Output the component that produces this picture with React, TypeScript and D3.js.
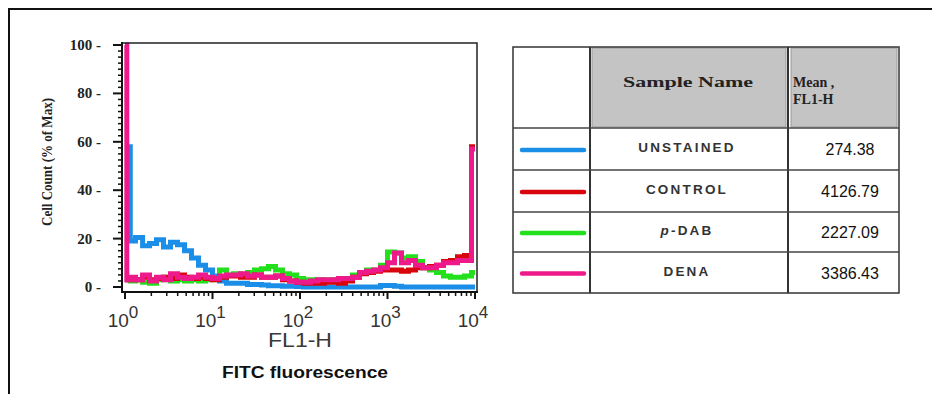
import React from "react";
import * as d3 from "d3";

// FL1-H channel positions (log scale) shared by every histogram
const channels = [
  1, 1.1, 1.2, 1.45, 1.74, 2.09, 2.51, 3.02, 3.63, 4.37, 5.25, 6.31, 7.59, 9.12,
  10.96, 13.18, 15.85, 19.05, 22.9, 27.5, 33.1, 39.8, 47.9, 57.5, 69.2, 83.2,
  100, 120, 145, 174, 209, 251, 302, 363, 437, 525, 631, 759, 912,
  1096, 1318, 1585, 1905, 2291, 2754, 3311, 3981, 4786, 5754, 6918, 8318, 10000,
];

// Cell count (% of max) per channel
const unstained = [
  58, 58, 19, 20.5, 17, 18, 19.5, 16.5, 18.5, 17.5, 15, 12, 9, 7, 4.5, 2.5, 1.5,
  1.5, 1.5, 1, 1, 0.8, 0.5, 0.5, 0.3, 0.3, 0.2, 0, 0, 0, 0, 0, 0, 0, 0, 0, 0, 0,
  0.6, 0.6, 0.3, 0, 0, 0, 0, 0, 0, 0, 0, 0, 0, 0,
];
const control = [
  3, 3, 3.5, 3, 4, 3, 3.5, 4, 3.5, 5, 4, 3.5, 4, 3.5, 3, 4, 4.5, 4.5, 4, 4, 5, 4,
  4, 4.5, 3, 2.5, 2, 1.5, 1.5, 1.5, 2, 2, 1.5, 2.5, 4, 5.5, 6, 6.5, 7, 7, 7, 6.5,
  7, 8, 8, 8.5, 9, 10.5, 11, 12.5, 13, 58,
];
const pDab = [
  3, 3, 2.5, 3, 2, 1.5, 3, 4, 2.5, 3, 2.5, 3, 2.5, 3, 3.5, 7, 5, 5.5, 5, 6, 7,
  7.5, 8.5, 7, 5.5, 5, 3.5, 3, 3, 3, 2.5, 3, 3, 3.5, 5, 6, 7, 7, 9, 14.5, 14, 12,
  12.5, 10.5, 8, 7, 6, 4.5, 4, 4, 4.5, 6,
];
const dena = [
  100, 3, 4, 3, 5, 2.5, 4, 3, 5.5, 4, 3.5, 4, 5, 4, 3.5, 4.5, 5, 5, 5.5, 4.5, 5,
  4, 4, 4.5, 3.5, 2.5, 2, 2, 2.5, 3, 3, 3, 3.5, 3.5, 4, 6, 6.5, 7, 8, 10, 14, 10,
  11, 9, 8, 8, 9, 10, 10, 11, 11, 57,
];

const sampleNames = ["UNSTAINED", "CONTROL", "p-DAB", "DENA"];
const meanValues = ["274.38", "4126.79", "2227.09", "3386.43"];
const sampleColors = ["#1b8fe8", "#d8060c", "#22e01c", "#ee1a8c"];

const yTicks = [0, 20, 40, 60, 80, 100];
const xDecades = [1, 10, 100, 1000, 10000];

const App = () => {
  const x = d3.scaleLog().domain([1, 10000]).range([125, 475]);
  const y = d3.scaleLinear().domain([0, 100]).range([287, 45]);

  const line = d3
    .line<number>()
    .x((_, i) => x(channels[i]))
    .y((d) => y(d))
    .curve(d3.curveStep);

  // draw order: blue, green, red, pink on top
  const series = [
    { values: unstained, color: sampleColors[0] },
    { values: pDab, color: sampleColors[2] },
    { values: control, color: sampleColors[1] },
    { values: dena, color: sampleColors[3] },
  ];

  const minorY = d3.range(0, 100.1, 2.5).filter((v) => v % 20 !== 0);
  const minorX = x.ticks().filter((v) => !xDecades.includes(v));

  // table geometry
  const tx = [513, 590, 788, 899];
  const ty = [47, 128, 170, 212, 252, 293];
  const serif = "'Liberation Serif', 'Times New Roman', serif";
  const sans = "'Liberation Sans', Arial, sans-serif";

  return (
    <svg
      width={932}
      height={394}
      style={{ position: "absolute", left: 0, top: 0, background: "#fff" }}
    >
      {/* outer frame */}
      <path d="M9,394V9H932" fill="none" stroke="#111" strokeWidth={2} />

      {/* histograms */}
      {series.map((s, i) => (
        <path
          key={i}
          d={line(s.values) || ""}
          fill="none"
          stroke={s.color}
          strokeWidth={5}
        />
      ))}

      {/* plot box */}
      <path d="M122,43H477V292" fill="none" stroke="#222" strokeWidth={1.5} />
      <line x1={122} x2={122} y1={42} y2={293} stroke="#111" strokeWidth={2} />
      <line x1={121} x2={478} y1={292} y2={292} stroke="#111" strokeWidth={2} />

      {/* y axis ticks */}
      {minorY.map((v) => (
        <line key={v} x1={118} x2={122} y1={y(v)} y2={y(v)} stroke="#111" strokeWidth={1.5} />
      ))}
      {yTicks.map((v) => (
        <g key={v}>
          <line x1={113} x2={122} y1={y(v)} y2={y(v)} stroke="#111" strokeWidth={2} />
          <text
            x={101}
            y={y(v) + 5}
            textAnchor="end"
            fontFamily={serif}
            fontWeight="bold"
            fontSize={15}
            fill="#222"
          >
            {v} -
          </text>
        </g>
      ))}
      <text
        transform="translate(52,162) rotate(-90)"
        textAnchor="middle"
        fontFamily={serif}
        fontWeight="bold"
        fontSize={14}
        fill="#222"
        textLength={128}
        lengthAdjust="spacingAndGlyphs"
      >
        Cell Count (% of Max)
      </text>

      {/* x axis ticks */}
      {minorX.map((v) => (
        <line key={v} x1={x(v)} x2={x(v)} y1={292} y2={296} stroke="#111" strokeWidth={1.5} />
      ))}
      {xDecades.map((v, i) => (
        <g key={v}>
          <line x1={x(v)} x2={x(v)} y1={292} y2={299} stroke="#111" strokeWidth={2} />
          <text x={x(v) - 2} y={327} textAnchor="middle" fontFamily={sans} fontSize={19} fill="#333">
            10
            <tspan dy={-9} fontSize={17}>
              {i}
            </tspan>
          </text>
        </g>
      ))}
      <text
        x={300}
        y={347}
        textAnchor="middle"
        fontFamily={sans}
        fontSize={20}
        fill="#3a3a3a"
        textLength={64}
        lengthAdjust="spacingAndGlyphs"
      >
        FL1-H
      </text>
      <text
        x={305}
        y={378}
        textAnchor="middle"
        fontFamily={sans}
        fontWeight="bold"
        fontSize={16}
        fill="#111"
        textLength={166}
        lengthAdjust="spacingAndGlyphs"
      >
        FITC fluorescence
      </text>

      {/* table */}
      <rect x={tx[1] + 2} y={ty[0] + 1} width={tx[2] - tx[1] - 4} height={ty[1] - ty[0] - 2} fill="#c4c4c4" stroke="#9a9a9a" />
      <rect x={tx[2] + 3} y={ty[0] + 1} width={tx[3] - tx[2] - 5} height={ty[1] - ty[0] - 2} fill="#c4c4c4" stroke="#9a9a9a" />
      <rect
        x={tx[0]}
        y={ty[0]}
        width={tx[3] - tx[0]}
        height={ty[5] - ty[0]}
        fill="none"
        stroke="#333"
        strokeWidth={1.5}
      />
      {tx.slice(1, 3).map((v) => (
        <line key={v} x1={v} x2={v} y1={ty[0]} y2={ty[5]} stroke="#333" strokeWidth={2} />
      ))}
      {ty.slice(1, 5).map((v) => (
        <line key={v} x1={tx[0]} x2={tx[3]} y1={v} y2={v} stroke="#444" strokeWidth={1.5} />
      ))}
      <text
        x={688}
        y={87}
        textAnchor="middle"
        fontFamily={serif}
        fontWeight="bold"
        fontSize={15}
        fill="#222"
        textLength={130}
        lengthAdjust="spacingAndGlyphs"
      >
        Sample Name
      </text>
      <text x={793} y={87} fontFamily={serif} fontWeight="bold" fontSize={14} fill="#222">
        Mean ,
      </text>
      <text x={793} y={104} fontFamily={serif} fontWeight="bold" fontSize={14} fill="#222">
        FL1-H
      </text>

      {sampleNames.map((name, i) => {
        const mid = (ty[i + 1] + ty[i + 2]) / 2;
        const isP = name.startsWith("p-");
        return (
          <g key={name}>
            <line
              x1={522}
              x2={584}
              y1={mid + 1}
              y2={mid + 1}
              stroke={sampleColors[i]}
              strokeWidth={4.5}
              strokeLinecap="round"
            />
            <text
              x={687}
              y={mid + 3}
              textAnchor="middle"
              fontFamily={sans}
              fontWeight="bold"
              fontSize={13.5}
              letterSpacing={2.2}
              fill="#333"
            >
              {isP ? (
                <>
                  <tspan fontStyle="italic">p</tspan>
                  {name.slice(1)}
                </>
              ) : (
                name
              )}
            </text>
            <text x={850} y={mid + 6} textAnchor="middle" fontFamily={sans} fontSize={16} fill="#111">
              {meanValues[i]}
            </text>
          </g>
        );
      })}
    </svg>
  );
};

export default App;
